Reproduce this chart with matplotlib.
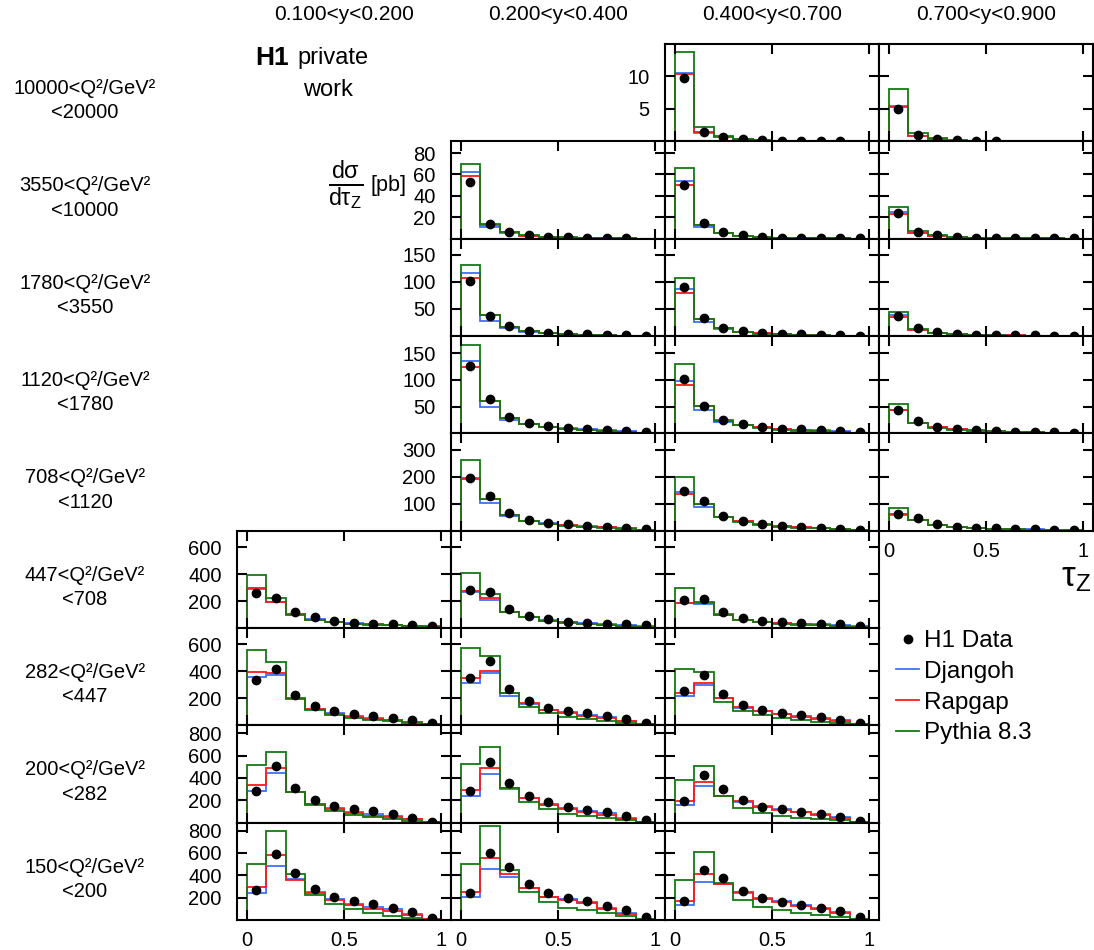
import numpy as np
import matplotlib
matplotlib.use("Agg")
import matplotlib.pyplot as plt
from matplotlib.lines import Line2D

plt.rcParams['font.family'] = ['Liberation Sans', 'DejaVu Sans']
plt.rcParams['mathtext.fontset'] = 'custom'
plt.rcParams['mathtext.rm'] = 'Liberation Sans'
plt.rcParams['mathtext.it'] = 'Liberation Sans'
plt.rcParams['mathtext.default'] = 'regular'

# tau_z binning
tau_edges = [0.0, 0.1, 0.2, 0.3, 0.4, 0.5, 0.6, 0.7, 0.8, 0.9, 1.0]
tau_centers = [0.05, 0.15, 0.25, 0.35, 0.45, 0.55, 0.65, 0.75, 0.85, 0.95]

y_bins = ["0.100<y<0.200", "0.200<y<0.400", "0.400<y<0.700", "0.700<y<0.900"]
q2_bins = [("10000", "20000"), ("3550", "10000"), ("1780", "3550"), ("1120", "1780"),
           ("708", "1120"), ("447", "708"), ("282", "447"), ("200", "282"), ("150", "200")]

# y range and ticks for every Q2 row
row_ymax = [15, 91, 180, 182, 360, 722, 722, 870, 872]
row_yticks = [[5, 10], [20, 40, 60, 80], [50, 100, 150], [50, 100, 150], [100, 200, 300],
              [200, 400, 600], [200, 400, 600], [200, 400, 600, 800], [200, 400, 600, 800]]

nan = np.nan

# ---- 0.1 < y < 0.2  (Q2 rows 5..8)
rows_y1 = [5, 6, 7, 8]
h1_y1 = [
    [256, 222, 117, 78, 51, 38, 31, 26, 21, 16],
    [333, 415, 225, 144, 106, 81, 67, 52, 37, 15],
    [283, 509, 306, 203, 146, 122, 101, 78, 45, 9],
    [268, 594, 420, 274, 208, 170, 143, 110, 71, 18],
]
djangoh_y1 = [
    [291, 193, 102, 63, 47, 35, 27, 22, 18, 13],
    [356, 373, 198, 122, 88, 68, 51, 40, 28, 11],
    [286, 440, 277, 167, 131, 98, 78, 62, 36, 7],
    [244, 480, 365, 250, 185, 145, 118, 95, 56, 6],
]
rapgap_y1 = [
    [300, 193, 100, 62, 45, 33, 26, 21, 17, 12],
    [398, 390, 198, 120, 85, 64, 48, 38, 26, 10],
    [339, 491, 277, 167, 120, 83, 62, 54, 30, 6],
    [297, 584, 360, 244, 176, 134, 100, 83, 47, 5],
]
pythia_y1 = [
    [394, 220, 98, 58, 42, 30, 23, 19, 15, 10],
    [558, 472, 200, 112, 75, 55, 40, 30, 20, 8],
    [518, 634, 277, 160, 101, 71, 47, 33, 18, 4],
    [497, 797, 414, 223, 140, 98, 66, 36, 21, 4],
]

# ---- 0.2 < y < 0.4  (Q2 rows 1..8)
rows_y2 = [1, 2, 3, 4, 5, 6, 7, 8]
h1_y2 = [
    [53, 13.3, 6, 3, 1.8, 1.2, 0.8, 0.5, 0.3, nan],
    [101, 37, 17.7, 9, 6, 4, 3, 2, 1, 0.5],
    [125, 64, 31, 19, 13.4, 10, 8.5, 7, 4, 2],
    [194, 128, 64, 39, 29, 23, 19, 15, 11, 6],
    [284, 264, 141, 90, 70, 48, 38, 31, 26, 19],
    [348, 477, 268, 177, 130, 103, 88, 69, 47, 17],
    [286, 545, 351, 235, 181, 140, 116, 98, 62, 24],
    [244, 601, 476, 325, 244, 193, 167, 125, 86, 24],
]
djangoh_y2 = [
    [62, 10.5, 5, 2.3, 1.4, 0.9, 0.6, 0.4, 0.2, 0.1],
    [116.6, 28, 14, 8, 5.5, 3.5, 2.5, 1.5, 0.8, 0.3],
    [135, 49.5, 25.6, 17, 12, 9.5, 7.5, 5.5, 3.5, 1.5],
    [196, 102, 55, 36, 27, 21, 16, 13, 9, 4],
    [265, 210, 117, 80, 57, 44, 35, 27, 20, 12],
    [314, 386, 221, 158, 115, 98, 74, 58, 35, 12],
    [241, 431, 300, 217, 165, 131, 107, 83, 45, 9],
    [208, 458, 381, 286, 210, 185, 160, 110, 60, 9],
]
rapgap_y2 = [
    [59, 13, 6, 2.5, 1.5, 1.0, 0.6, 0.4, 0.2, 0.1],
    [106.6, 38, 17, 8.5, 5.5, 3.5, 2.5, 1.5, 0.8, 0.3],
    [124, 60, 28, 18, 12, 9, 7, 5, 3, 1.5],
    [190, 117, 57, 36, 26, 20, 15, 12, 8, 4],
    [271, 220, 117, 80, 55, 42, 33, 25, 18, 10],
    [348, 403, 241, 162, 110, 94, 69, 52, 30, 10],
    [289, 485, 306, 217, 161, 122, 92, 68, 33, 8],
    [250, 551, 408, 286, 202, 179, 149, 101, 51, 8],
]
pythia_y2 = [
    [69.6, 14, 6.5, 3, 1.8, 1.1, 0.7, 0.4, 0.2, 0.1],
    [132, 38, 17.5, 9, 5.5, 3.5, 2.2, 1.3, 0.7, 0.3],
    [165, 60, 28, 17, 11, 8, 6, 4, 2.5, 1],
    [262, 117, 58, 35, 25, 18, 13, 10, 7, 3],
    [406, 249, 117, 78, 50, 38, 28, 20, 14, 8],
    [572, 515, 241, 136, 91, 64, 44, 33, 20, 8],
    [524, 676, 306, 181, 122, 78, 56, 38, 24, 6],
    [503, 839, 452, 247, 158, 110, 86, 63, 33, 6],
]

# ---- 0.4 < y < 0.7  (Q2 rows 0..8)
rows_y3 = [0, 1, 2, 3, 4, 5, 6, 7, 8]
h1_y3 = [
    [9.8, 1.4, 0.7, 0.3, 0.2, 0.1, 0.08, 0.05, 0.03, nan],
    [50.5, 14.8, 6, 3.5, 1.5, 1, 0.6, 0.4, 0.3, 0.2],
    [90, 33, 15, 8.5, 6, 4, 3, 2, 1, 0.7],
    [101, 52, 25, 17.6, 12, 9, 8, 6.6, 4, 2.5],
    [145, 111, 55, 37.5, 25, 18, 14, 11, 7, 4],
    [207, 218, 117, 75, 51, 43, 34, 31, 26, 16],
    [255, 375, 233, 152, 110, 88, 74, 59, 42, 17],
    [194, 426, 301, 203, 143, 119, 98, 78, 51, 18],
    [173, 452, 375, 262, 199, 161, 131, 107, 80, 24],
]
djangoh_y3 = [
    [10.5, 1.3, 0.6, 0.3, 0.15, 0.1, 0.06, 0.04, 0.02, 0.01],
    [53.5, 10.8, 5, 2.4, 1.3, 0.8, 0.5, 0.3, 0.2, 0.1],
    [87, 25, 13, 8, 5, 3.5, 2.5, 1.5, 0.8, 0.4],
    [98, 44.5, 22, 15.5, 11, 8.5, 7, 5.5, 3.5, 1.5],
    [142, 89, 50, 34, 24, 17, 13, 10, 6, 3],
    [185, 175, 98, 62, 47, 39, 30, 26, 20, 11],
    [215, 299, 204, 130, 108, 85, 66, 52, 36, 12],
    [161, 324, 241, 185, 145, 118, 98, 75, 46, 9],
    [137, 342, 318, 240, 195, 167, 132, 106, 72, 9],
]
rapgap_y3 = [
    [10.3, 1.5, 0.6, 0.3, 0.15, 0.1, 0.06, 0.04, 0.02, 0.01],
    [50.5, 13, 5.5, 2.5, 1.3, 0.8, 0.5, 0.3, 0.2, 0.1],
    [80, 32, 14, 8, 5, 3.5, 2.5, 1.5, 0.8, 0.4],
    [91, 51, 24, 16, 11, 8, 6.5, 5, 3, 1.5],
    [134, 99, 52, 35, 24, 17, 13, 9, 6, 3],
    [185, 183, 100, 62, 45, 37, 28, 24, 18, 10],
    [237, 314, 204, 138, 105, 81, 62, 47, 32, 10],
    [194, 360, 241, 190, 143, 112, 92, 68, 40, 8],
    [170, 408, 318, 247, 190, 161, 125, 98, 63, 8],
]
pythia_y3 = [
    [13.8, 2.2, 0.8, 0.35, 0.2, 0.1, 0.06, 0.04, 0.02, 0.01],
    [66, 13, 5.5, 2.5, 1.3, 0.8, 0.5, 0.3, 0.2, 0.1],
    [106.6, 32, 14, 7.5, 4.5, 3, 2, 1.2, 0.6, 0.3],
    [129, 51, 23, 15, 10, 7, 5, 4, 2.5, 1],
    [200, 99, 50, 32, 22, 15, 11, 8, 5, 2],
    [300, 190, 98, 58, 42, 32, 24, 19, 14, 8],
    [421, 395, 175, 106, 74, 52, 37, 27, 17, 8],
    [381, 503, 241, 131, 89, 62, 45, 30, 20, 6],
    [357, 610, 333, 182, 116, 86, 63, 48, 27, 6],
]

# ---- 0.7 < y < 0.9  (Q2 rows 0..4)
rows_y4 = [0, 1, 2, 3, 4]
h1_y4 = [
    [4.95, 1.0, 0.4, 0.15, 0.08, 0.05, nan, nan, nan, nan],
    [23.7, 6.2, 3.1, 1.8, 1.0, 0.7, 0.5, 0.4, 0.3, 0.2],
    [37.5, 14.5, 6.5, 3, 2, 1.5, 1.2, 1, 0.8, 0.5],
    [42.7, 23, 12.6, 8.5, 6, 4.5, 3, 2.5, 2, 1.5],
    [63, 48.5, 23, 15, 10, 8, 6, 5, 4, 2],
]
djangoh_y4 = [
    [5.4, 0.8, 0.35, 0.12, 0.06, 0.03, 0.01, 0, 0, 0],
    [24.5, 5.5, 2.8, 1.5, 0.9, 0.6, 0.4, 0.3, 0.2, 0.1],
    [38, 11.5, 5.5, 3, 2, 1.3, 1, 0.8, 0.5, 0.3],
    [44, 19, 11, 7.5, 5.5, 4, 3, 2, 1.5, 1],
    [58, 39, 21, 14, 10, 7.5, 6, 4.5, 3, 1.5],
]
rapgap_y4 = [
    [5.3, 0.8, 0.35, 0.12, 0.06, 0.03, 0.01, 0, 0, 0],
    [23.4, 5.5, 2.8, 1.5, 0.9, 0.6, 0.4, 0.3, 0.2, 0.1],
    [36, 12, 5.5, 3, 2, 1.3, 1, 0.8, 0.5, 0.3],
    [43, 20, 11, 7.5, 5.5, 4, 3, 2, 1.5, 1],
    [60, 41, 21, 14, 10, 7, 5.5, 4, 3, 1.5],
]
pythia_y4 = [
    [8.0, 1.3, 0.5, 0.2, 0.08, 0.04, 0.01, 0, 0, 0],
    [30, 7.4, 3.5, 1.7, 0.9, 0.6, 0.4, 0.3, 0.2, 0.1],
    [45, 12.5, 5.5, 2.8, 1.8, 1.2, 0.9, 0.7, 0.4, 0.2],
    [54, 20, 10, 7, 5, 3.5, 2.5, 1.8, 1.2, 0.8],
    [82, 41, 20, 12, 8, 6, 4.5, 3, 2, 1],
]

columns = [
    (rows_y1, h1_y1, djangoh_y1, rapgap_y1, pythia_y1),
    (rows_y2, h1_y2, djangoh_y2, rapgap_y2, pythia_y2),
    (rows_y3, h1_y3, djangoh_y3, rapgap_y3, pythia_y3),
    (rows_y4, h1_y4, djangoh_y4, rapgap_y4, pythia_y4),
]

c_dj = '#3f6fff'
c_rg = '#ff1a1a'
c_py = '#137a13'

W, H = 1094, 950
fig = plt.figure(figsize=(W / 100, H / 100), dpi=100)

x0, pw = 237, 214      # panel left edge / width in px
y0, ph = 44, 97.33     # panel top edge / height in px

for ci, (rows, h1, dj, rg, py) in enumerate(columns):
    for k, r in enumerate(rows):
        left = (x0 + pw * ci) / W
        bottom = 1 - (y0 + ph * (r + 1)) / H
        ax = fig.add_axes([left, bottom, pw / W, ph / H])
        ax.stairs(dj[k], tau_edges, color=c_dj, lw=1.3)
        ax.stairs(rg[k], tau_edges, color=c_rg, lw=1.3)
        ax.stairs(py[k], tau_edges, color=c_py, lw=1.3)
        ax.plot(tau_centers, h1[k], 'o', color='black', ms=6, zorder=5)
        ax.set_xlim(-0.05, 1.05)
        ax.set_ylim(0, row_ymax[r])
        ax.set_xticks([0, 0.5, 1])
        ax.set_xticklabels(['0', '0.5', '1'])
        ax.set_yticks(row_yticks[r])
        ax.tick_params(direction='in', top=True, right=True, length=7, width=1.5,
                       labelsize=14.5)
        ax.tick_params(axis='x', pad=8)
        ax.tick_params(axis='y', pad=11)
        for sp in ax.spines.values():
            sp.set_linewidth(1.5)
        is_bottom = (r == rows[-1])
        is_left = (ci == 0) or (r < columns[ci - 1][0][0])
        ax.tick_params(labelbottom=is_bottom, labelleft=is_left)

# column headers
for ci, lab in enumerate(y_bins):
    fig.text((x0 + pw * ci + pw / 2) / W, 1 - 15 / H, lab, ha='center', va='center', fontsize=15)

# row labels
for r, (lo, hi) in enumerate(q2_bins):
    yc = y0 + ph * (r + 0.5) + 8
    fig.text(85 / W, 1 - yc / H, lo + "<Q²/GeV²\n<" + hi, ha='center', va='center',
             fontsize=14.5, linespacing=1.35)

# H1 label
fig.text(255 / W, 1 - 58 / H, "H1", fontsize=19, fontweight='bold', ha='left', va='center')
fig.text(297 / W, 1 - 58 / H, "private", fontsize=17, ha='left', va='center')
fig.text(328 / W, 1 - 90 / H, "work", fontsize=17, ha='center', va='center')
fig.text(346 / W, 1 - 186 / H, r'$\frac{d\sigma}{d\tau_Z}$', fontsize=24, ha='center', va='center')
fig.text(371 / W, 1 - 186 / H, "[pb]", fontsize=15.5, ha='left', va='center')

# axis label
fig.text(1076 / W, 1 - 578 / H, r'$\tau_Z$', fontsize=25, ha='center', va='center')

# legend
handles = [
    Line2D([], [], ls='none', marker='o', color='black', ms=6),
    Line2D([], [], color=c_dj, lw=1.3),
    Line2D([], [], color=c_rg, lw=1.3),
    Line2D([], [], color=c_py, lw=1.3),
]
fig.legend(handles, ["H1 Data", "Djangoh", "Rapgap", "Pythia 8.3"],
           loc='upper left', bbox_to_anchor=(896 / W, 1 - 630 / H), frameon=False,
           fontsize=17.5, handlelength=0.95, handletextpad=0.2, labelspacing=0.36,
           borderaxespad=0, borderpad=0)

fig.savefig("out.png", dpi=100)
